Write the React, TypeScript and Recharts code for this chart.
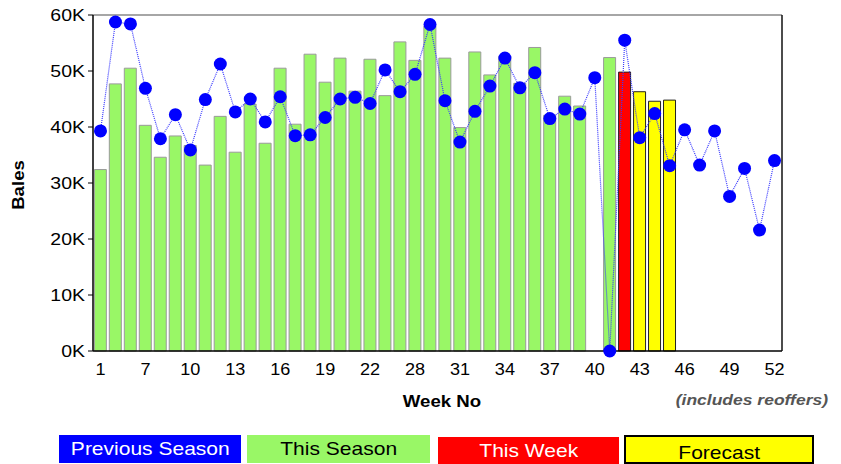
import React from 'react';
import { ComposedChart, Bar, Line, XAxis, YAxis, ReferenceLine, Label } from 'recharts';

// ---- data ----
const weeks: string[] = [
  '1', '5', '6', '7', '8', '9', '10', '11', '12', '13', '14', '15', '16', '17', '18', '19', '20', '21', '22',
  '26', '27', '28', '29', '30', '31', '32', '33', '34', '35', '36', '37', '38', '39', '40', '41', '42', '43',
  '44', '45', '46', '47', '48', '49', '50', '51', '52',
];

const thisSeason: (number | null)[] = [
  32400, 47700, 50500, 40300, 34600, 38400, 36700, 33200, 41900, 35500, 44100, 37100, 50500, 40500, 53000,
  48000, 52300, 46400, 52100, 45600, 55200, 51900, 58000, 52300, 39900, 53400, 49300, 52600, 47800, 54200,
  42100, 45500, 43750, null, 52400, null, null, null, null, null, null, null, null, null, null, null,
];

const thisWeek: (number | null)[] = [
  null, null, null, null, null, null, null, null, null, null, null, null, null, null, null, null, null, null,
  null, null, null, null, null, null, null, null, null, null, null, null, null, null, null, null, null, 49800,
  null, null, null, null, null, null, null, null, null, null,
];

const forecast: (number | null)[] = [
  null, null, null, null, null, null, null, null, null, null, null, null, null, null, null, null, null, null,
  null, null, null, null, null, null, null, null, null, null, null, null, null, null, null, null, null, null,
  46300, 44600, 44800, null, null, null, null, null, null, null,
];

const previousSeason: number[] = [
  39300, 58750, 58400, 46900, 37900, 42200, 35900, 44900, 51250, 42700, 45000, 40900, 45400, 38450, 38600,
  41700, 45000, 45300, 44200, 50200, 46300, 49400, 58300, 44700, 37300, 42800, 47300, 52300, 47000, 49700,
  41500, 43200, 42300, 48800, 0, 55500, 38100, 42400, 33100, 39500, 33200, 39300, 27600, 32600, 21600, 34000,
];

const yTicks: number[] = [0, 10000, 20000, 30000, 40000, 50000, 60000];

const legendItems = [
  { label: 'Previous Season', bg: '#0000ff', color: '#ffffff' },
  { label: 'This Season', bg: '#99f766', color: '#000000' },
  { label: 'This Week', bg: '#ff0000', color: '#ffffff' },
  { label: 'Forecast', bg: '#ffff00', color: '#000000' },
];

const data = weeks.map((w, i) => ({
  week: w,
  thisSeason: thisSeason[i],
  thisWeek: thisWeek[i],
  forecast: forecast[i],
  prev: previousSeason[i],
}));

const FONT = '"Liberation Sans", Arial, Helvetica, sans-serif';
const SX = 1.13;

const fmtK = (v: number) => `${Math.round(v / 1000)}K`;

const XTick = (props: any) => {
  const { x, y, payload } = props;
  return (
    <text
      transform={`translate(${x},${y}) scale(${SX},1)`}
      textAnchor="middle"
      dy="0.71em"
      fontSize={16}
      fontFamily={FONT}
      fill="#000"
    >
      {payload.value}
    </text>
  );
};

const YTickLeft = (props: any) => {
  const { x, y, payload } = props;
  return (
    <text
      transform={`translate(${x},${y}) scale(1.18,1)`}
      textAnchor="end"
      dy="0.38em"
      fontSize={16.5}
      fontFamily={FONT}
      fill="#000"
    >
      {fmtK(payload.value)}
    </text>
  );
};

const YTickRight = (props: any) => {
  const { x, y, payload } = props;
  return (
    <text
      transform={`translate(${x},${y}) scale(1.18,1)`}
      textAnchor="start"
      dy="0.38em"
      fontSize={16.5}
      fontFamily={FONT}
      fill="#000"
    >
      {fmtK(payload.value)}
    </text>
  );
};

const renderXTitle = () => (
  <g>
    <text
      transform={`translate(442,407) scale(${SX},1)`}
      textAnchor="middle"
      fontSize={16.5}
      fontWeight="bold"
      fontFamily={FONT}
      fill="#000"
    >
      Week No
    </text>
    <text
      transform={`translate(828,405) scale(${SX},1)`}
      textAnchor="end"
      fontSize={15.5}
      fontWeight="bold"
      fontStyle="italic"
      fontFamily={FONT}
      fill="#555555"
    >
      (includes reoffers)
    </text>
  </g>
);

const renderYTitle = () => (
  <text
    transform={`translate(24,185) rotate(-90) scale(${SX},1)`}
    textAnchor="middle"
    fontSize={16.5}
    fontWeight="bold"
    fontFamily={FONT}
    fill="#000"
  >
    Bales
  </text>
);

const legendBoxes = [
  { left: 59, top: 435, width: 182, height: 28, border: 'none', pad: 0 },
  { left: 247, top: 435, width: 183, height: 28, border: 'none', pad: 0 },
  { left: 438, top: 437, width: 181, height: 27, border: 'none', pad: 0 },
  { left: 624, top: 435, width: 190, height: 29, border: '2px solid #000', pad: 3 },
];

export default function App() {
  return (
    <div style={{ position: 'absolute', left: 0, top: 0, width: 841, height: 464, background: '#fff', overflow: 'hidden' }}>
      <ComposedChart
        width={841}
        height={464}
        data={data}
        margin={{ top: 15, right: 0, bottom: 83, left: 0 }}
        barCategoryGap="9%"
      >
        <XAxis
          dataKey="week"
          interval={2}
          tickLine={false}
          tickSize={0}
          tickMargin={13}
          axisLine={{ stroke: '#000', strokeWidth: 1.5 }}
          tick={<XTick />}
          height={30}
        >
          <Label content={renderXTitle} />
        </XAxis>
        <YAxis
          yAxisId="left"
          orientation="left"
          width={93}
          domain={[0, 60000]}
          ticks={yTicks}
          interval={0}
          tickSize={5}
          tickMargin={3}
          tickLine={{ stroke: '#000' }}
          axisLine={{ stroke: '#000', strokeWidth: 1.5 }}
          tick={<YTickLeft />}
        >
          <Label content={renderYTitle} />
        </YAxis>
        <YAxis
          yAxisId="right"
          orientation="right"
          width={59}
          domain={[0, 60000]}
          ticks={yTicks}
          interval={0}
          tickSize={0}
          tickMargin={8}
          tickLine={false}
          axisLine={{ stroke: '#111', strokeWidth: 1.5 }}
          tick={<YTickRight />}
        />
        <ReferenceLine yAxisId="left" y={60000} stroke="#888888" strokeWidth={1.5} ifOverflow="visible" />
        <Bar
          yAxisId="left"
          dataKey="thisSeason"
          stackId="s"
          fill="#99f766"
          stroke="#9a9a9a"
          strokeWidth={1}
          isAnimationActive={false}
        />
        <Bar
          yAxisId="left"
          dataKey="thisWeek"
          stackId="s"
          fill="#ff0000"
          stroke="#222222"
          strokeWidth={1}
          isAnimationActive={false}
        />
        <Bar
          yAxisId="left"
          dataKey="forecast"
          stackId="s"
          fill="#ffff00"
          stroke="#222222"
          strokeWidth={1}
          isAnimationActive={false}
        />
        <Line
          yAxisId="left"
          type="linear"
          dataKey="prev"
          stroke="#3a3aff"
          strokeWidth={1.2}
          strokeDasharray="1 1"
          dot={{ r: 6.5, fill: '#0000ff', stroke: 'none' }}
          activeDot={false}
          isAnimationActive={false}
        />
      </ComposedChart>
      {legendItems.map((it, i) => {
        const b = legendBoxes[i];
        return (
          <div
            key={it.label}
            style={{
              position: 'absolute',
              left: b.left,
              top: b.top,
              width: b.width,
              height: b.height,
              boxSizing: 'border-box',
              background: it.bg,
              border: b.border,
              color: it.color,
              fontFamily: FONT,
              fontSize: 18.6,
              lineHeight: `${b.height - (b.border === 'none' ? 0 : 4)}px`,
              textAlign: 'center',
              paddingTop: b.pad,
              overflow: 'hidden',
              whiteSpace: 'nowrap',
            }}
          >
            <span style={{ display: 'inline-block', transform: `scale(${SX},1)` }}>{it.label}</span>
          </div>
        );
      })}
    </div>
  );
}
